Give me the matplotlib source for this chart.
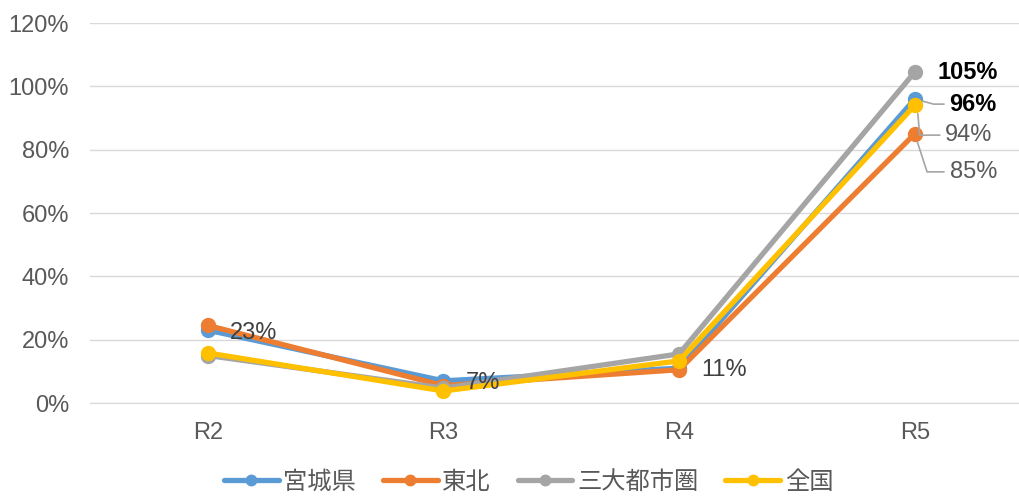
import matplotlib.pyplot as plt
from matplotlib.ticker import FuncFormatter

plt.rcParams['font.family'] = ['Liberation Sans', 'Noto Sans CJK JP', 'DejaVu Sans']

# Datos
categories = ['R2', 'R3', 'R4', 'R5']
miyagi = [23, 7, 11, 96]
tohoku = [24.5, 5.5, 10.5, 85]
sandai = [15, 4.7, 15.5, 104.5]
zenkoku = [15.8, 3.8, 13.3, 94]

series = [
    ('宮城県', miyagi, '#5B9BD5'),
    ('東北', tohoku, '#ED7D31'),
    ('三大都市圏', sandai, '#A5A5A5'),
    ('全国', zenkoku, '#FFC000'),
]

fig = plt.figure(figsize=(10.19, 4.96), dpi=100)
ax = fig.add_axes([0.0883, 0.1875, 0.925, 0.766])

x = list(range(len(categories)))
for name, vals, color in series:
    ax.plot(x, vals, color=color, linewidth=3.8, marker='o', markersize=10,
            label=name, solid_capstyle='round')

ax.set_xlim(-0.5, 3.5)
ax.set_ylim(0, 120)
ax.set_yticks(range(0, 121, 20))
ax.yaxis.set_major_formatter(FuncFormatter(lambda v, p: f'{int(v)}%'))
ax.set_xticks(x)
ax.set_xticklabels(categories)
ax.tick_params(axis='both', length=0, labelsize=17, colors='#595959')
ax.tick_params(axis='x', pad=14)
ax.tick_params(axis='y', pad=15)
ax.grid(axis='y', color='#D9D9D9', linewidth=1)
ax.set_axisbelow(True)
for s in ['top', 'right', 'left']:
    ax.spines[s].set_visible(False)
ax.spines['bottom'].set_color('#D9D9D9')

# Etiquetas de datos
lab = dict(fontsize=17, color='#404040', va='center', ha='left')
ax.text(0.093, 22, '23%', **lab)
ax.text(1.095, 6.3, '7%', **lab)
ax.text(2.096, 10.4, '11%', **lab)

ax.text(3.097, 104.5, '105%', fontsize=17, fontweight='bold', color='black', va='center', ha='left')
lead = dict(arrowstyle='-', color='#A5A5A5', lw=1.2, shrinkA=2, shrinkB=6)
ax.annotate('96%', xy=(3, miyagi[3]), xytext=(3.148, 94.4), fontsize=17, fontweight='bold',
            color='black', va='center', ha='left',
            arrowprops=dict(lead, connectionstyle='angle,angleA=0,angleB=-15,rad=0'))
ax.annotate('94%', xy=(3.01, zenkoku[3]), xytext=(3.13, 84.6), fontsize=17,
            color='#595959', va='center', ha='left',
            arrowprops=dict(lead, connectionstyle='angle,angleA=0,angleB=-85,rad=0'))
ax.annotate('85%', xy=(3, tohoku[3]), xytext=(3.148, 73), fontsize=17,
            color='#595959', va='center', ha='left',
            arrowprops=dict(lead, connectionstyle='angle,angleA=0,angleB=-72,rad=0'))

fig.legend(loc='center', bbox_to_anchor=(0.5187, 0.028), ncol=4, frameon=False,
           fontsize=17.5, handlelength=2.25, columnspacing=1.1, handletextpad=0.2,
           markerscale=0.75, labelcolor='#595959')

plt.savefig('out.png', dpi=100)
